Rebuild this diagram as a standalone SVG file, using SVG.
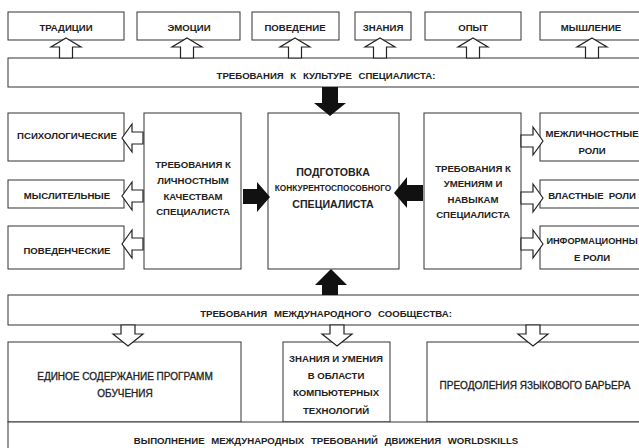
<svg xmlns="http://www.w3.org/2000/svg" width="639" height="448" viewBox="0 0 639 448">
<style>
.b{fill:#fff;stroke:#333;stroke-width:1}
.t{font-family:"Liberation Sans",Arial,sans-serif;font-weight:bold;font-size:9.6px;fill:#222;text-anchor:middle;dominant-baseline:central}
.big{font-size:10.6px}
.sm{font-size:8.3px}
.w{word-spacing:2.5px}
.ww{word-spacing:4px}
.r{font-weight:normal;stroke:#222;stroke-width:0.3;font-size:10px}
.ha{fill:#fff;stroke:#222;stroke-width:1.2}
.fa{fill:#111;stroke:none}
</style>
<defs>
<polygon id="up" points="0,0 15,9 6.5,9 6.5,20 -6.5,20 -6.5,9 -15,9"/>
<polygon id="dn" points="0,0 15,-12 7,-12 7,-21 -7,-21 -7,-12 -15,-12"/>
<polygon id="lf" points="0,0 10,-14 10,-6 21,-6 21,6 10,6 10,14"/>
<polygon id="rt" points="0,0 -10,-14 -10,-6 -22,-6 -22,6 -10,6 -10,14"/>
</defs>
<rect width="639" height="448" fill="#fff"/>

<g id="n-tradicii"><rect class="b" x="8" y="12" width="116" height="28"/><text class="t" x="66" y="27">ТРАДИЦИИ</text></g>
<g id="n-emocii"><rect class="b" x="137" y="12" width="103" height="28"/><text class="t" x="189" y="27">ЭМОЦИИ</text></g>
<g id="n-povedenie"><rect class="b" x="252" y="12" width="87" height="28"/><text class="t" x="295" y="27">ПОВЕДЕНИЕ</text></g>
<g id="n-znaniya"><rect class="b" x="355" y="12" width="56" height="28"/><text class="t" x="383" y="27">ЗНАНИЯ</text></g>
<g id="n-opyt"><rect class="b" x="425" y="12" width="96" height="28"/><text class="t" x="473" y="27">ОПЫТ</text></g>
<g id="n-myshlenie"><rect class="b" x="540" y="12" width="104" height="28"/><text class="t" x="591" y="27">МЫШЛЕНИЕ</text></g>

<g id="n-kultura"><rect class="b" x="8" y="58" width="640" height="29"/><text class="t ww" x="326" y="75">ТРЕБОВАНИЯ К КУЛЬТУРЕ СПЕЦИАЛИСТА:</text></g>

<g id="n-psih"><rect class="b" x="8" y="113" width="116" height="48"/><text class="t" x="67" y="135">ПСИХОЛОГИЧЕСКИЕ</text></g>
<g id="n-mysl"><rect class="b" x="8" y="180" width="116" height="28"/><text class="t" x="67" y="195">МЫСЛИТЕЛЬНЫЕ</text></g>
<g id="n-poved"><rect class="b" x="8" y="226" width="116" height="43"/><text class="t" x="67" y="250">ПОВЕДЕНЧЕСКИЕ</text></g>

<g id="n-lichn"><rect class="b" x="144" y="113" width="97" height="156"/>
<text class="t" x="193" y="164">ТРЕБОВАНИЯ К</text><text class="t" x="193" y="180">ЛИЧНОСТНЫМ</text><text class="t" x="193" y="196">КАЧЕСТВАМ</text><text class="t" x="193" y="211">СПЕЦИАЛИСТА</text></g>

<g id="n-center"><rect class="b" x="268" y="113" width="131" height="156"/>
<text class="t big" x="333" y="172">ПОДГОТОВКА</text><text class="t sm" x="333" y="188">КОНКУРЕНТОСПОСОБНОГО</text><text class="t big" x="333" y="204">СПЕЦИАЛИСТА</text></g>

<g id="n-umen"><rect class="b" x="424" y="113" width="97" height="156"/>
<text class="t" x="473" y="168">ТРЕБОВАНИЯ К</text><text class="t" x="473" y="183">УМЕНИЯМ И</text><text class="t" x="473" y="199">НАВЫКАМ</text><text class="t" x="473" y="214">СПЕЦИАЛИСТА</text></g>

<g id="n-mezhl"><rect class="b" x="540" y="113" width="104" height="48"/><text class="t" x="592" y="133">МЕЖЛИЧНОСТНЫЕ</text><text class="t" x="592" y="150">РОЛИ</text></g>
<g id="n-vlast"><rect class="b" x="540" y="180" width="104" height="28"/><text class="t w" x="592" y="195">ВЛАСТНЫЕ РОЛИ</text></g>
<g id="n-inform"><rect class="b" x="540" y="226" width="104" height="43"/><text class="t" x="592" y="241" style="font-size:9.2px">ИНФОРМАЦИОННЫ</text><text class="t" x="592" y="257">Е РОЛИ</text></g>

<g id="n-mezhd"><rect class="b" x="8" y="295" width="640" height="30"/><text class="t ww" x="326" y="313">ТРЕБОВАНИЯ МЕЖДУНАРОДНОГО СООБЩЕСТВА:</text></g>

<g id="n-edinoe"><rect class="b" x="8" y="342" width="233" height="80"/><text class="t r" x="125" y="376">ЕДИНОЕ СОДЕРЖАНИЕ ПРОГРАММ</text><text class="t r" x="125" y="393">ОБУЧЕНИЯ</text></g>
<g id="n-komp"><rect class="b" x="283" y="342" width="107" height="80"/>
<text class="t" x="336" y="358">ЗНАНИЯ И УМЕНИЯ</text><text class="t" x="336" y="375">В ОБЛАСТИ</text><text class="t" x="336" y="392">КОМПЬЮТЕРНЫХ</text><text class="t" x="336" y="410">ТЕХНОЛОГИЙ</text></g>
<g id="n-yazyk"><rect class="b" x="427" y="342" width="217" height="80"/><text class="t r" x="535" y="385">ПРЕОДОЛЕНИЯ ЯЗЫКОВОГО БАРЬЕРА</text></g>

<g id="n-ws"><rect class="b" x="8" y="422" width="640" height="40"/><text class="t ww" x="326" y="440">ВЫПОЛНЕНИЕ МЕЖДУНАРОДНЫХ ТРЕБОВАНИЙ ДВИЖЕНИЯ WORLDSKILLS</text></g>

<g id="connectors">
<use href="#up" class="ha" x="66" y="38"/>
<use href="#up" class="ha" x="187" y="38"/>
<use href="#up" class="ha" x="295" y="38"/>
<use href="#up" class="ha" x="380" y="38"/>
<use href="#up" class="ha" x="473" y="38"/>
<use href="#up" class="ha" x="592" y="38"/>

<use href="#lf" class="ha" x="122" y="138"/>
<use href="#lf" class="ha" x="122" y="196"/>
<use href="#lf" class="ha" x="122" y="244"/>

<use href="#rt" class="ha" x="543" y="141"/>
<use href="#rt" class="ha" x="543" y="198"/>
<use href="#rt" class="ha" x="543" y="244"/>

<use href="#dn" class="ha" x="128" y="346"/>
<use href="#dn" class="ha" x="337" y="346"/>
<use href="#dn" class="ha" x="533" y="346"/>

<polygon class="fa" points="322,87 338,87 338,103 346,103 330,116 314,103 322,103"/>
<polygon class="fa" points="331,269 347,285 338,285 338,295 322,295 322,285 315,285"/>
<polygon class="fa" points="243,189 257,189 257,182 270,197 257,212 257,204 243,204"/>
<polygon class="fa" points="394,193 407,177 407,185 423,185 423,201 407,201 407,208"/>
</g>
</svg>
